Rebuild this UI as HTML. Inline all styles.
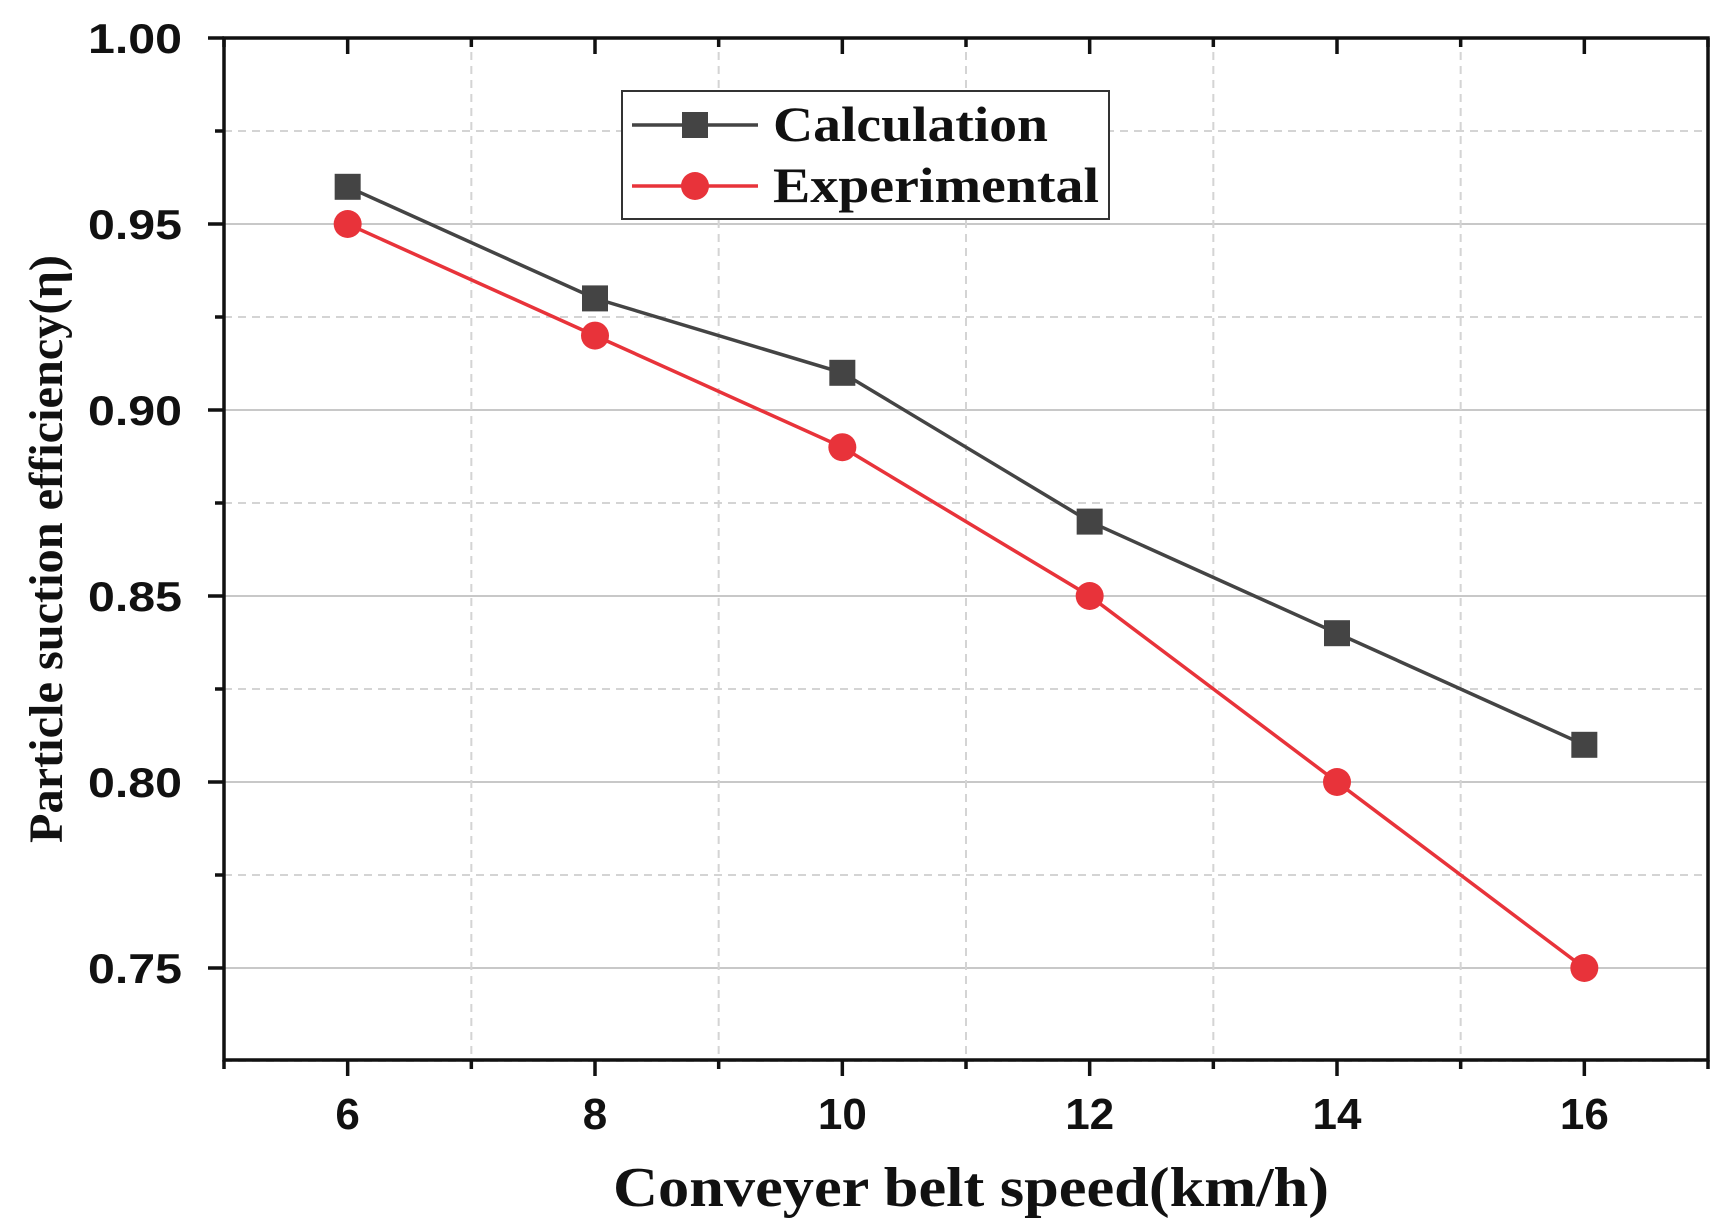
<!DOCTYPE html>
<html><head><meta charset="utf-8"><style>body{margin:0;background:#fff}svg{display:block}</style></head>
<body>
<svg id="chart" width="1730" height="1226" viewBox="0 0 1730 1226" xmlns="http://www.w3.org/2000/svg"></svg>
<script>
const categories = [6, 8, 10, 12, 14, 16];
const calculation = [0.96, 0.93, 0.91, 0.87, 0.84, 0.81];
const experimental = [0.95, 0.92, 0.89, 0.85, 0.80, 0.75];
const yTicks = [0.75, 0.80, 0.85, 0.90, 0.95, 1.00];
const yTickLabels = ["0.75", "0.80", "0.85", "0.90", "0.95", "1.00"];
const xTicks = [6, 8, 10, 12, 14, 16];
const xTickLabels = ["6", "8", "10", "12", "14", "16"];

const NS = "http://www.w3.org/2000/svg";
const svg = document.getElementById('chart');
const L = 224, R = 1708, T = 38, B = 1060;
const xMin = 5, xMax = 17, yTop = 1.0, yBot = 1.0 - (B - T) / 3720;
const x = v => L + (v - xMin) / (xMax - xMin) * (R - L);
const y = v => T + (yTop - v) / (yTop - yBot) * (B - T);
function el(tag, attrs, parent) {
  const e = document.createElementNS(NS, tag);
  for (const k in attrs) e.setAttribute(k, attrs[k]);
  (parent || svg).appendChild(e);
  return e;
}
for (let v = 0.725; v < 1.0; v += 0.025) {
  const major = Math.abs(Math.round(v * 20) - v * 20) < 1e-6;
  const g = el('line', {x1: L, x2: R, y1: y(v), y2: y(v), stroke: major ? '#c8c8c8' : '#d4d4d4', 'stroke-width': 2, 'stroke-dasharray': major ? '' : '8 6'});
  
  
}
for (let v = 7; v < 17; v += 2) {
  const g = el('line', {x1: x(v), x2: x(v), y1: T, y2: B, stroke: '#d4d4d4', 'stroke-width': 2, 'stroke-dasharray': '8 6'});
  
  
}
const fr = el('rect', {x: L, y: T, width: R - L, height: B - T, fill: 'none', stroke: '#111', 'stroke-width': 3.5});


for (let v = 5; v <= 17; v++) {
  const len = v % 2 === 0 ? 16 : 9;
  el('line', {x1: x(v), x2: x(v), y1: B, y2: B + len, stroke: '#111', 'stroke-width': 3.5});
  el('line', {x1: x(v), x2: x(v), y1: T, y2: T + len, stroke: '#111', 'stroke-width': 3.5});
}
xTicks.forEach((v, i) => {
  const t = el('text', {x: x(v), y: 1129, 'text-anchor': 'middle', 'font-family': 'Liberation Sans, sans-serif', 'font-weight': 'bold', 'font-size': 44, fill: '#111'});
  t.textContent = xTickLabels[i];
  
  
});
for (let v = 0.75; v <= 1.0001; v += 0.025) {
  const major = Math.abs(Math.round(v * 20) - v * 20) < 1e-6;
  const len = major ? 16 : 9;
  el('line', {x1: L - len, x2: L, y1: y(v), y2: y(v), stroke: '#111', 'stroke-width': 3.5});
}
yTicks.forEach((v, i) => {
  const t = el('text', {x: 182, y: y(v) + 15, 'text-anchor': 'end', 'font-family': 'Liberation Sans, sans-serif', 'font-weight': 'bold', 'font-size': 42, fill: '#111', textLength: 94, lengthAdjust: 'spacingAndGlyphs'});
  t.textContent = yTickLabels[i];
  
  
});
const xt = el('text', {x: 971, y: 1206, 'text-anchor': 'middle', 'font-family': 'Liberation Serif, serif', 'font-weight': 'bold', 'font-size': 56, fill: '#111', textLength: 716, lengthAdjust: 'spacingAndGlyphs'});
xt.textContent = 'Conveyer belt speed(km/h)';


const yt = el('text', {x: 0, y: 0, 'text-anchor': 'middle', 'font-family': 'Liberation Serif, serif', 'font-weight': 'bold', 'font-size': 48, fill: '#111', textLength: 588, lengthAdjust: 'spacingAndGlyphs', transform: 'translate(62,549) rotate(-90)'});
yt.textContent = 'Particle suction efficiency(η)';


function series(vals, color, shape, name) {
  const g = el('g', {});
  
  
  el('polyline', {points: categories.map((c, i) => x(c) + ',' + y(vals[i])).join(' '), fill: 'none', stroke: color, 'stroke-width': 3.5}, g);
  categories.forEach((c, i) => {
    let m;
    if (shape === 'square') m = el('rect', {x: x(c) - 13, y: y(vals[i]) - 13, width: 26, height: 26, fill: color}, g);
    else m = el('circle', {cx: x(c), cy: y(vals[i]), r: 14, fill: color}, g);
    
    
  });
}
series(calculation, '#444444', 'square', 'calculation');
series(experimental, '#e8333a', 'circle', 'experimental');
const lg = el('g', {});


el('rect', {x: 622, y: 91, width: 487, height: 128, fill: '#fff', stroke: '#333', 'stroke-width': 2}, lg);
const items = [['Calculation', '#444444', 'square', 125, 275], ['Experimental', '#e8333a', 'circle', 186, 326]];
items.forEach(([label, color, shape, cy, w]) => {
  const e = el('g', {}, lg);
  
  
  el('line', {x1: 632, x2: 758, y1: cy, y2: cy, stroke: color, 'stroke-width': 3.5}, e);
  if (shape === 'square') el('rect', {x: 682, y: cy - 13, width: 26, height: 26, fill: color}, e);
  else el('circle', {cx: 695, cy: cy, r: 14, fill: color}, e);
  const t = el('text', {x: 773, y: cy + 16, 'font-family': 'Liberation Serif, serif', 'font-weight': 'bold', 'font-size': 50, fill: '#111', textLength: w, lengthAdjust: 'spacingAndGlyphs'}, e);
  t.textContent = label;
});
</script>
</body></html>
